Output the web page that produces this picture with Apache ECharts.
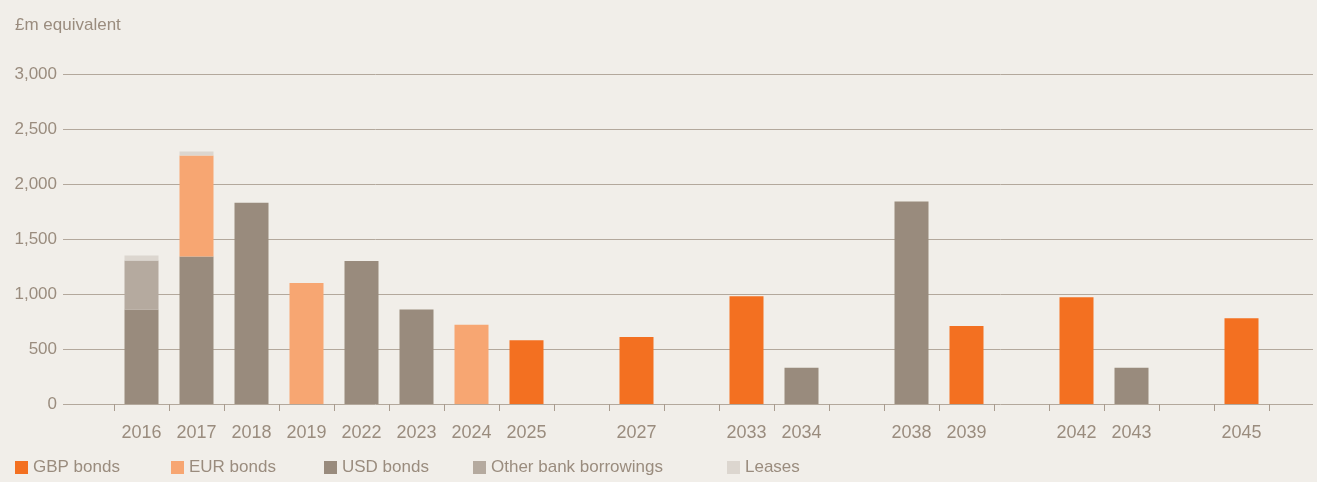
<!DOCTYPE html>
<html>
<head>
<meta charset="utf-8">
<script src="https://cdn.jsdelivr.net/npm/echarts@6/dist/echarts.min.js"></script>
<style>
html,body{margin:0;padding:0;background:#F1EEE9;}
#chart{width:1317px;height:482px;}
</style>
</head>
<body>
<div id="chart"></div>
<script>
// Category slots ('' = empty slot on the axis)
const categories = ['2016','2017','2018','2019','2022','2023','2024','2025','','2027','','2033','2034','','2038','2039','','2042','2043','','2045'];
const gbpBonds   = [null,null,null,null,null,null,null,580,null,610,null,980,null,null,null,710,null,970,null,null,780];
const eurBonds   = [null,920,null,1100,null,null,720,null,null,null,null,null,null,null,null,null,null,null,null,null,null];
const usdBonds   = [860,1340,1830,null,1300,860,null,null,null,null,null,null,330,null,1840,null,null,null,330,null,null];
const otherBank  = [445,null,null,null,null,null,null,null,null,null,null,null,null,null,null,null,null,null,null,null,null];
const leases     = [45,35,null,null,null,null,null,null,null,null,null,null,null,null,null,null,null,null,null,null,null];
const yTicks = [0, 500, 1000, 1500, 2000, 2500, 3000];

const FONT = '"Liberation Sans", Arial, sans-serif';
const TXT = '#9A8C7E';
const colors = {gbp:'#F37021', eur:'#F7A672', usd:'#998B7D', other:'#B5AA9F', leases:'#DCD6CF'};

const chart = echarts.init(document.getElementById('chart'), null, {renderer:'canvas'});

function legendAt(name, left){
  return {
    data:[name], left:left, top:459, padding:0, icon:'rect', itemWidth:13, itemHeight:13,
    textStyle:{color:TXT, fontSize:17, fontFamily:FONT},
    itemGap:0, selectedMode:false
  };
}

chart.setOption({
  backgroundColor:'#F1EEE9',
  animation:false,
  title:{text:'£m equivalent', left:15, top:17, padding:0,
    textStyle:{color:TXT, fontSize:17, fontWeight:'normal', fontFamily:FONT}},
  legend:[
    legendAt('GBP bonds', 15),
    legendAt('EUR bonds', 171),
    legendAt('USD bonds', 324),
    legendAt('Other bank borrowings', 473),
    legendAt('Leases', 727)
  ],
  grid:[
    {left:63, right:4, top:74, height:330},
    {left:114, width:1155, top:74, height:330}
  ],
  xAxis:[
    {type:'value', gridIndex:0, show:false, min:0, max:1},
    {type:'category', gridIndex:1, data:categories,
      axisLine:{show:false},
      axisTick:{show:true, interval:0, length:7, lineStyle:{color:'#A89B8E', width:1}},
      axisLabel:{interval:0, color:TXT, fontSize:18, fontFamily:FONT, margin:20}}
  ],
  yAxis:[
    {type:'value', gridIndex:0, min:0, max:3000, interval:500,
      axisLine:{show:false}, axisTick:{show:false},
      axisLabel:{color:TXT, fontSize:17, fontFamily:FONT, margin:6, padding:[3,0,0,0],
        formatter:function(v){ return yTicks.indexOf(v) >= 0 ? v.toLocaleString('en-GB') : ''; }},
      splitLine:{show:true, lineStyle:{color:'#B3A89C', width:1}}},
    {type:'value', gridIndex:1, min:0, max:3000, interval:500, show:false, splitLine:{show:false}}
  ],
  series:[
    {name:'USD bonds', type:'bar', stack:'a', xAxisIndex:1, yAxisIndex:1, barWidth:34, data:usdBonds, itemStyle:{color:colors.usd}},
    {name:'Other bank borrowings', type:'bar', stack:'a', xAxisIndex:1, yAxisIndex:1, barWidth:34, data:otherBank, itemStyle:{color:colors.other}},
    {name:'EUR bonds', type:'bar', stack:'a', xAxisIndex:1, yAxisIndex:1, barWidth:34, data:eurBonds, itemStyle:{color:colors.eur}},
    {name:'GBP bonds', type:'bar', stack:'a', xAxisIndex:1, yAxisIndex:1, barWidth:34, data:gbpBonds, itemStyle:{color:colors.gbp}},
    {name:'Leases', type:'bar', stack:'a', xAxisIndex:1, yAxisIndex:1, barWidth:34, data:leases, itemStyle:{color:colors.leases}}
  ]
});
</script>
</body>
</html>
